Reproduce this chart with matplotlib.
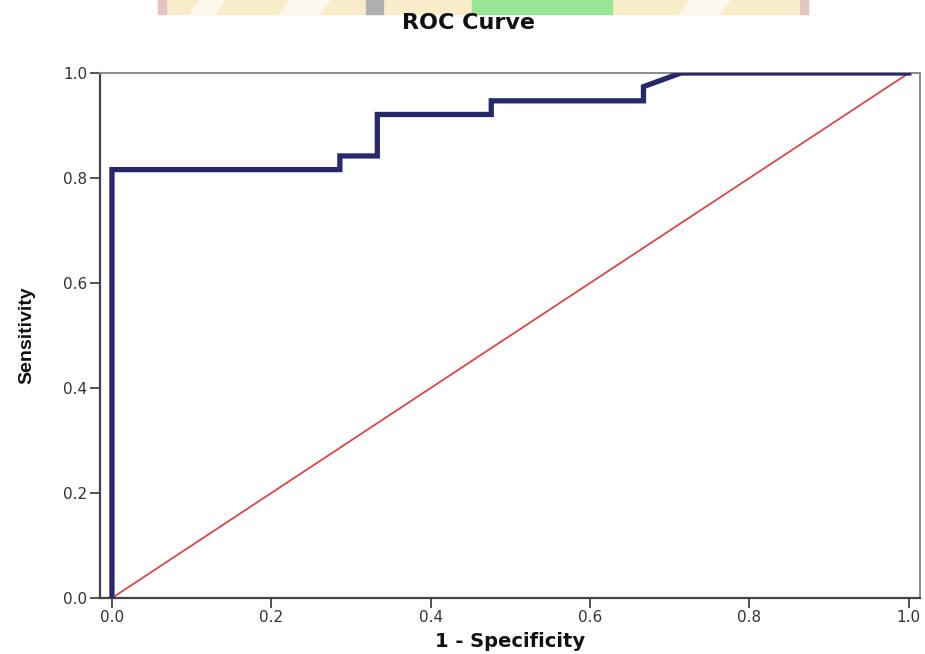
import matplotlib
matplotlib.use("Agg")
import matplotlib.pyplot as plt
from matplotlib.patches import Polygon, Rectangle

# ROC data (1 - specificity, sensitivity)
fpr = [0.0, 0.0, 0.286, 0.286, 0.333, 0.333, 0.476, 0.476, 0.667, 0.667, 0.714, 1.0]
tpr = [0.0, 0.816, 0.816, 0.842, 0.842, 0.921, 0.921, 0.947, 0.947, 0.974, 1.0, 1.0]
ref_x = [0.0, 1.0]
ref_y = [0.0, 1.0]
ticks = [0.0, 0.2, 0.4, 0.6, 0.8, 1.0]
tick_labels = ["0.0", "0.2", "0.4", "0.6", "0.8", "1.0"]

W, H = 925, 654
fig = plt.figure(figsize=(W / 100, H / 100), dpi=100)
fig.patch.set_facecolor("white")

# faint watermark strip at the top
def fx(px):
    return px / W

def fy(py):
    return 1 - py / H

strip_bot = 14
fig.patches.append(Rectangle((fx(158), fy(strip_bot)), fx(808) - fx(158), strip_bot / H,
                             transform=fig.transFigure, color="#f9ecca", zorder=0))
for x0, x1 in [(158, 166), (800, 808)]:
    fig.patches.append(Rectangle((fx(x0), fy(strip_bot)), fx(x1) - fx(x0), strip_bot / H,
                                 transform=fig.transFigure, color="#e2c4c0", zorder=1))
for (a, b, c, d) in [(200, 225, 215, 190), (290, 330, 320, 280), (690, 730, 720, 680)]:
    fig.patches.append(Polygon([(fx(a), fy(0)), (fx(b), fy(0)), (fx(c), fy(14)), (fx(d), fy(14))],
                               closed=True, transform=fig.transFigure, color="#fdf8ee", zorder=1))
fig.patches.append(Rectangle((fx(366), fy(14)), fx(383) - fx(366), 14 / H,
                             transform=fig.transFigure, color="#b0b0b0", zorder=1))
fig.patches.append(Rectangle((fx(472), fy(14)), fx(612) - fx(472), 14 / H,
                             transform=fig.transFigure, color="#98e694", zorder=1))

ax = fig.add_axes([100 / W, 56 / H, 820 / W, 525 / H])
ax.set_xlim(-0.015, 1.014)
ax.set_ylim(0, 1)

ax.plot(ref_x, ref_y, color="#d6474b", linewidth=1.3, zorder=2)
ax.plot(fpr, tpr, color="#28286b", linewidth=3.8, solid_joinstyle="miter", zorder=3)

ax.set_xticks(ticks)
ax.set_xticklabels(tick_labels)
ax.set_yticks(ticks)
ax.set_yticklabels(tick_labels)
ax.tick_params(direction="out", length=7, width=1.3, color="#444444",
               labelsize=11, labelcolor="#333333", pad=2)
for lab in ax.get_xticklabels() + ax.get_yticklabels():
    lab.set_family("DejaVu Sans")

for side in ["left", "bottom"]:
    ax.spines[side].set_color("#444444")
    ax.spines[side].set_linewidth(1.6)
for side in ["top", "right"]:
    ax.spines[side].set_color("#8a8a8a")
    ax.spines[side].set_linewidth(1.4)

ax.set_xlabel("1 - Specificity", fontsize=14, fontweight="bold", family="DejaVu Sans",
              color="#111111", labelpad=5)
ax.set_ylabel("Sensitivity", fontsize=14, fontweight="bold", family="Liberation Sans",
              color="#111111", labelpad=20)
fig.text(fx(468), fy(23), "ROC Curve", ha="center", va="center", fontsize=16,
         fontweight="bold", family="DejaVu Sans", color="#111111")

fig.savefig("out.png", dpi=100, facecolor="white")
